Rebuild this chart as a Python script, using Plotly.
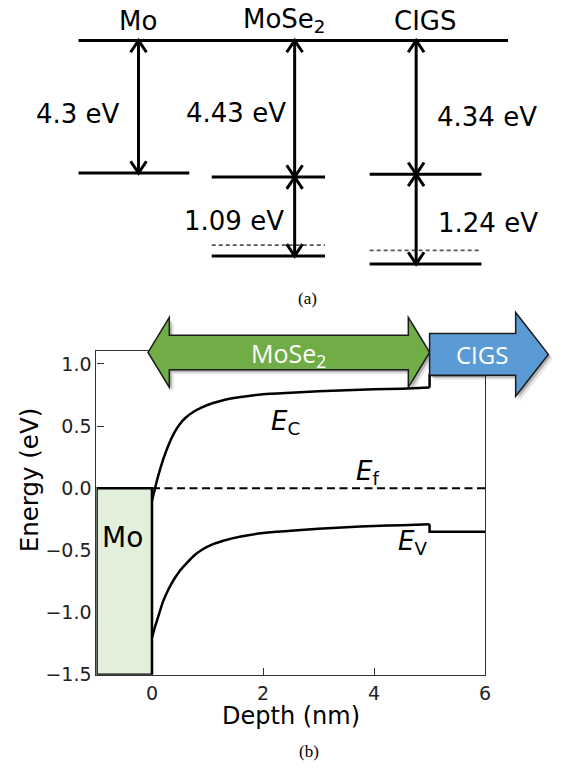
import plotly.graph_objects as go

# ---------------- data: panel (a) energy-level diagram ----------------
materials = ["Mo", "MoSe<sub>2</sub>", "CIGS"]
level_below_vacuum_eV = [4.3, 4.43, 4.34]      # work function / electron affinity
band_gap_eV = [None, 1.09, 1.24]
fermi_above_vb_eV = [None, 0.15, 0.19]
level_labels = ["4.3 eV", "4.43 eV", "4.34 eV"]
gap_labels = [None, "1.09 eV", "1.24 eV"]

# ---------------- data: panel (b) band diagram ----------------
depth_mose2 = [0.00, 0.05, 0.10, 0.20, 0.30, 0.40, 0.50, 0.60, 0.75, 0.90,
               1.10, 1.30, 1.60, 2.00, 2.50, 3.00, 3.50, 4.00, 4.50, 5.00]
ec_mose2 = [-0.10, -0.01, 0.08, 0.23, 0.35, 0.445, 0.515, 0.565, 0.615, 0.65,
            0.685, 0.71, 0.733, 0.755, 0.768, 0.78, 0.788, 0.795, 0.80, 0.81]
ev_mose2 = [-1.20, -1.12, -1.05, -0.91, -0.81, -0.73, -0.665, -0.615, -0.545, -0.495,
            -0.45, -0.42, -0.388, -0.36, -0.342, -0.325, -0.313, -0.303, -0.297, -0.29]
depth_cigs = [5.0, 6.0]
ec_cigs = [0.91, 0.91]
ev_cigs = [-0.35, -0.35]
ef_depth = [0.0, 6.0]
ef_energy = [0.0, 0.0]
mo_depth = [-1.0, 0.0]
mo_energy = [-1.5, 0.0]
mose2_layer = [0.0, 5.0]
x_ticks = [0, 2, 4, 6]
y_ticks = [-1.5, -1.0, -0.5, 0.0, 0.5, 1.0]
x_range = [-1.0, 6.0]
y_range = [-1.5, 1.1]

# ---------------- geometry / style ----------------
W, H = 567, 775
PX0, PX1, PY0, PY1 = 97.5, 490.3, 356.5, 684.5   # plot area (px)
FONT = "DejaVu Sans"


def xpx(d):
    return PX0 + (d - x_range[0]) / (x_range[1] - x_range[0]) * (PX1 - PX0)


def ypx(e):
    return PY1 - (e - y_range[0]) / (y_range[1] - y_range[0]) * (PY1 - PY0)


def paper(px, py):
    return px / W, 1 - py / H


def path(points, dx=0.0, dy=0.0):
    s = ""
    for i, (px, py) in enumerate(points):
        x, y = paper(px + dx, py + dy)
        s += ("M" if i == 0 else "L") + f"{x:.5f},{y:.5f} "
    return s + "Z"


fig = go.Figure()

# ======== panel (b) ========
fig.add_trace(go.Scatter(x=ef_depth, y=ef_energy, mode="lines",
                         line=dict(color="black", width=2, dash="8px,4.5px"),
                         xaxis="x", yaxis="y", hoverinfo="skip"))
for e_m, e_c in ((ec_mose2, ec_cigs), (ev_mose2, ev_cigs)):
    fig.add_trace(go.Scatter(x=depth_mose2, y=e_m, mode="lines",
                             line=dict(color="black", width=2.5, shape="spline", smoothing=0.6),
                             xaxis="x", yaxis="y", hoverinfo="skip"))
    fig.add_trace(go.Scatter(x=[depth_mose2[-1]] + depth_cigs, y=[e_m[-1]] + e_c, mode="lines",
                             line=dict(color="black", width=2.5),
                             xaxis="x", yaxis="y", hoverinfo="skip"))

shapes = []
# Mo metal block
shapes.append(dict(type="rect", xref="x", yref="y", x0=mo_depth[0], x1=mo_depth[1],
                   y0=mo_energy[0], y1=mo_energy[1], fillcolor="#E2EFDA",
                   line=dict(color="black", width=2.6), layer="above"))

# layer arrows (MoSe2 double arrow, CIGS arrow)
cy_g = ypx(y_range[1]) + 1
xl, xr = xpx(mose2_layer[0]) - 4, xpx(mose2_layer[1])
hl, sh, hh = 21.5, 17.5, 35.5
green = [(xl, cy_g), (xl + hl, cy_g - hh), (xl + hl, cy_g - sh), (xr - hl, cy_g - sh),
         (xr - hl, cy_g - hh), (xr, cy_g), (xr - hl, cy_g + hh), (xr - hl, cy_g + sh),
         (xl + hl, cy_g + sh), (xl + hl, cy_g + hh)]
cy_b = cy_g + 2
bx0, bx1, btip = xr, xr + 87, xr + 120
bsh, bhh = 21.2, 42.5
blue = [(bx0, cy_b - bsh), (bx1, cy_b - bsh), (bx1, cy_b - bhh), (btip, cy_b),
        (bx1, cy_b + bhh), (bx1, cy_b + bsh), (bx0, cy_b + bsh)]
for pts in (green, blue):
    shapes.append(dict(type="path", xref="paper", yref="paper", path=path(pts, 4.5, 4.5),
                       fillcolor="rgba(0,0,0,0.10)", line=dict(width=0), layer="above"))
    shapes.append(dict(type="path", xref="paper", yref="paper", path=path(pts, 2.5, 2.5),
                       fillcolor="rgba(0,0,0,0.22)", line=dict(width=0), layer="above"))
shapes.append(dict(type="path", xref="paper", yref="paper", path=path(green),
                   fillcolor="#70AD47", line=dict(color="#1b1b1b", width=1.5), layer="above"))
shapes.append(dict(type="path", xref="paper", yref="paper", path=path(blue),
                   fillcolor="#5B9BD5", line=dict(color="#1b1b1b", width=1.5), layer="above"))

annotations = []


def ann_px(text, px, py, size, color="black", family=FONT, **kw):
    x, y = paper(px, py)
    annotations.append(dict(text=text, x=x, y=y, xref="paper", yref="paper", showarrow=False,
                            xanchor="center", yanchor="middle",
                            font=dict(family=family, size=size, color=color), **kw))


ann_px("MoSe<sub>2</sub>", (xl + xr) / 2, cy_g + 2, 25, color="white", family="Open Sans")
ann_px("CIGS", (bx0 + btip) / 2 - 7, cy_b, 24, color="white", family="Open Sans")

annotations.append(dict(text="Mo", x=-0.54, y=-0.40, xref="x", yref="y", showarrow=False,
                        xanchor="center", yanchor="middle",
                        font=dict(family=FONT, size=28, color="black")))
for txt, xd, yd in (("<i>E</i><sub>C</sub>", 2.10, 0.53), ("<i>E</i><sub>f</sub>", 3.64, 0.13),
                    ("<i>E</i><sub>V</sub>", 4.39, -0.44)):
    annotations.append(dict(text=txt, x=xd, y=yd, xref="x", yref="y", showarrow=False,
                            xanchor="left", yanchor="middle",
                            font=dict(family=FONT, size=26, color="black")))

ann_px("Energy (eV)", 30, 486.5, 24.5, textangle=-90)
ann_px("Depth (nm)", 294.5, 726, 24)
ann_px("(a)", 311, 303, 17, family="Liberation Serif")
ann_px("(b)", 312, 762.5, 17, family="Liberation Serif")

# ======== panel (a) ========
SCALE = 31.3          # px per eV (upper part)
GAP_SCALE = 2.345     # band gaps drawn expanded
VAC_PY = 41.0
ya_top = VAC_PY / SCALE
ya_bot = -(300 - VAC_PY) / SCALE
col_x = [(79.4, 191.3), (214.0, 328.5), (373.6, 486.6)]
arrow_x = [140.0, 297.8, 420.6]
title_x = [139.0, 287.0, 429.6]
vac_x = (79.4, 513.4)
CHEV_W, CHEV_H = 8.0, 12.0 / SCALE

solid_x, solid_y, dash_x, dash_y, arr_x, arr_y = [], [], [], [], [], []
solid_x += [vac_x[0], vac_x[1], None]
solid_y += [0, 0, None]


def add_arrow(x, y_top, y_bot):
    arr_x.extend([x, x, None, x - CHEV_W, x, x + CHEV_W, None, x - CHEV_W, x, x + CHEV_W, None])
    arr_y.extend([y_top, y_bot, None, y_top - CHEV_H, y_top, y_top - CHEV_H, None,
                  y_bot + CHEV_H, y_bot, y_bot + CHEV_H, None])


label_shift_top = [-7.7, -4.2, -9.8]
label_shift_gap = [None, -4.8, -3.7]
label_side = ["left", "left", "right"]
label_gap = [17, 7, 19]
for i, name in enumerate(materials):
    cb = -level_below_vacuum_eV[i]
    x0, x1 = col_x[i]
    solid_x += [x0, x1, None]
    solid_y += [cb, cb, None]
    add_arrow(arrow_x[i], 0, cb)
    side = label_side[i]
    lx = arrow_x[i] - label_gap[i] if side == "left" else arrow_x[i] + label_gap[i]
    annotations.append(dict(text=level_labels[i], x=lx, y=cb / 2, yshift=label_shift_top[i],
                            xref="x2", yref="y2", showarrow=False,
                            xanchor="right" if side == "left" else "left", yanchor="middle",
                            font=dict(family=FONT, size=26, color="black")))
    annotations.append(dict(text=name, x=title_x[i], y=(VAC_PY - 21) / SCALE, xref="x2", yref="y2",
                            showarrow=False, xanchor="center", yanchor="middle",
                            font=dict(family=FONT, size=26, color="black")))
    if band_gap_eV[i] is not None:
        vb = cb - GAP_SCALE * band_gap_eV[i]
        solid_x += [x0, x1, None]
        solid_y += [vb, vb, None]
        ef = vb + GAP_SCALE * fermi_above_vb_eV[i]
        dash_x += [x0, x1, None]
        dash_y += [ef, ef, None]
        add_arrow(arrow_x[i], cb, vb)
        lx2 = arrow_x[i] - (label_gap[i] + 2) if side == "left" else arrow_x[i] + label_gap[i] + 1
        annotations.append(dict(text=gap_labels[i], x=lx2, y=(cb + vb) / 2,
                                yshift=label_shift_gap[i], xref="x2", yref="y2", showarrow=False,
                                xanchor="right" if side == "left" else "left", yanchor="middle",
                                font=dict(family=FONT, size=26, color="black")))

fig.add_trace(go.Scatter(x=dash_x, y=dash_y, mode="lines", xaxis="x2", yaxis="y2",
                         line=dict(color="#555555", width=1.8, dash="4px,3px"), hoverinfo="skip"))
fig.add_trace(go.Scatter(x=solid_x, y=solid_y, mode="lines", xaxis="x2", yaxis="y2",
                         line=dict(color="black", width=3), hoverinfo="skip"))
fig.add_trace(go.Scatter(x=arr_x, y=arr_y, mode="lines", xaxis="x2", yaxis="y2",
                         line=dict(color="black", width=3), hoverinfo="skip"))

axis_common = dict(showline=True, mirror=True, linecolor="#333333", linewidth=1.3,
                   ticks="inside", ticklen=7, tickwidth=1.3, tickcolor="#333333",
                   showgrid=False, zeroline=False,
                   tickfont=dict(family=FONT, size=19, color="#222222"))
fig.update_layout(
    width=W, height=H, margin=dict(l=0, r=0, t=0, b=0),
    paper_bgcolor="white", plot_bgcolor="white", showlegend=False,
    xaxis=dict(domain=[PX0 / W, PX1 / W], range=x_range, tickvals=x_ticks,
               ticktext=[str(v) for v in x_ticks], ticklabelstandoff=1, **axis_common),
    yaxis=dict(domain=[1 - PY1 / H, 1 - PY0 / H], range=y_range, tickvals=y_ticks,
               ticktext=[f"{v:.1f}".replace("-", "\u2212") for v in y_ticks], **axis_common),
    xaxis2=dict(domain=[0, 1], range=[0, W], visible=False, anchor="y2"),
    yaxis2=dict(domain=[1 - 300 / H, 1], range=[ya_bot, ya_top], visible=False, anchor="x2"),
    shapes=shapes, annotations=annotations,
)

fig.write_html("out.html", config={"displayModeBar": False},
               post_script="document.body.style.margin='0';")
